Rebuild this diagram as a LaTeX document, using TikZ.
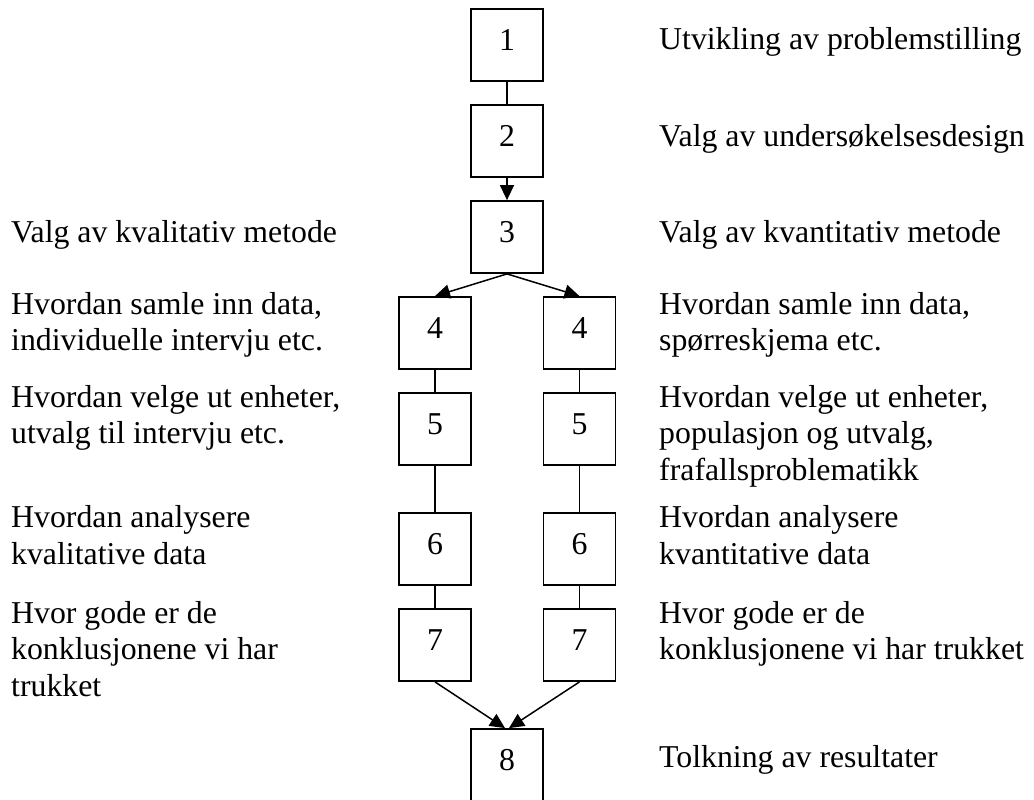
\documentclass[tikz,border=0pt]{standalone}
\usepackage{fontspec}
\setmainfont{Liberation Serif}
\usetikzlibrary{arrows.meta,calc}

\tikzset{
  stepbox/.style={draw, line width=1.8pt, minimum width=72pt, minimum height=72pt,
    inner sep=0pt, text height=21pt, text depth=10pt},
  link/.style={line width=1.5pt},
  flow/.style={line width=1.5pt, -{Triangle[length=15pt,width=14pt]}},
  note/.style={anchor=base west, inner sep=0pt}
}
% block of text whose first baseline is the node's base
\newcommand{\blk}[1]{\begin{tabular}[t]{@{}l@{}}#1\end{tabular}}

\begin{document}
\begin{tikzpicture}[x=1pt, y=-1pt, font=\fontsize{31.8}{36.5}\selectfont]
  \useasboundingbox (0,0) rectangle (1034,800);

  % boxes of the process
  \node[stepbox] (b1) at (507,45) {1};
  \node[stepbox] (b2) at (507,141) {2};
  \node[stepbox] (b3) at (507,237) {3};
  \node[stepbox] (b4l) at (435,333) {4};
  \node[stepbox] (b4r) at (579.5,333) {4};
  \node[stepbox] (b5l) at (435,429) {5};
  \node[stepbox] (b5r) at (579.5,429) {5};
  \node[stepbox] (b6l) at (435,549) {6};
  \node[stepbox] (b6r) at (579.5,549) {6};
  \node[stepbox] (b7l) at (435,645) {7};
  \node[stepbox] (b7r) at (579.5,645) {7};
  \node[stepbox] (b8) at (507,765) {8};

  % connectors
  \draw[link] (b1.south) -- (b2.north);
  \draw[flow] (b2.south) -- (b3.north);
  \draw[flow] (b3.south) -- (b4l.north);
  \draw[flow] (b3.south) -- (b4r.north);
  \draw[link] (b4l.south) -- (b5l.north);
  \draw[link] (b4r.south) -- (b5r.north);
  \draw[link] (b5l.south) -- (b6l.north);
  \draw[link] (b5r.south) -- (b6r.north);
  \draw[link] (b6l.south) -- (b7l.north);
  \draw[link] (b6r.south) -- (b7r.north);
  \draw[flow] (b7l.south) -- ($(b8.north)+(-2,0)$);
  \draw[flow] (b7r.south) -- ($(b8.north)+(2,0)$);

  % qualitative side
  \node[note] (q3) at (11,242) {Valg av kvalitativ metode};
  \node[note] (q4) at (11,314) {\blk{Hvordan samle inn data,\\individuelle intervju etc.}};
  \node[note] (q5) at (11,407) {\blk{Hvordan velge ut enheter,\\utvalg til intervju etc.}};
  \node[note] (q6) at (11,527.5) {\blk{Hvordan analysere\\kvalitative data}};
  \node[note] (q7) at (11,623) {\blk{Hvor gode er de\\konklusjonene vi har\\trukket}};

  % common steps and quantitative side
  \node[note] (t1) at (659,50) {Utvikling av problemstilling};
  \node[note] (t2) at (659,146) {Valg av undersøkelsesdesign};
  \node[note] (k3) at (659,242) {Valg av kvantitativ metode};
  \node[note] (k4) at (659,314) {\blk{Hvordan samle inn data,\\spørreskjema etc.}};
  \node[note] (k5) at (659,407) {\blk{Hvordan velge ut enheter,\\populasjon og utvalg,\\frafallsproblematikk}};
  \node[note] (k6) at (659,527.5) {\blk{Hvordan analysere\\kvantitative data}};
  \node[note] (k7) at (659,623) {\blk{Hvor gode er de\\konklusjonene vi har trukket}};
  \node[note] (t8) at (659,767) {Tolkning av resultater};
\end{tikzpicture}
\end{document}
